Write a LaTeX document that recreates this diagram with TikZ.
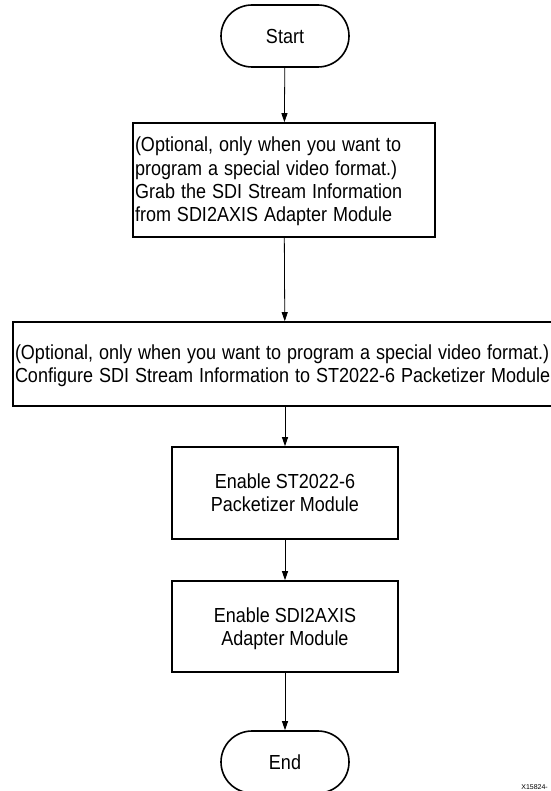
\documentclass[tikz,border=0pt]{standalone}
\usepackage{fontspec}
\setmainfont{Liberation Sans}
\usetikzlibrary{arrows.meta}
% slightly tall lettering, lowered a little so it sits mid-box
\newcommand\tallleft[1]{\raisebox{-2pt}[\height][\depth]{\scalebox{1}[1.13]{\begin{tabular}{@{}l@{}}#1\end{tabular}}}}
\newcommand\tallmid[1]{\raisebox{-2.5pt}[\height][\depth]{\scalebox{1}[1.13]{\begin{tabular}{@{}c@{}}#1\end{tabular}}}}
\begin{document}
\begin{tikzpicture}[x=1pt,y=-1pt,
  every node/.style={font=\fontsize{18}{20.6}\selectfont},
  terminal/.style={draw, line width=1.6pt, rounded corners=31pt,
    minimum width=128pt, minimum height=62pt, inner sep=0pt},
  stepbox/.style={draw, line width=1.6pt, inner sep=0pt},
  flow/.style={line width=0.8pt, -{Triangle[length=9pt,width=6pt]}}]
\useasboundingbox (0,0) rectangle (550,791);

\node[terminal] (start) at (285,36) {\tallmid{Start}};

\node[stepbox, text width=298pt, inner xsep=2pt, align=left,
      minimum height=114pt] (grab) at (284,180)
  {\tallleft{(Optional, only when you want to\\
   program a special video format.)\\
   Grab the SDI Stream Information\\
   from SDI2AXIS Adapter Module}};

\node[stepbox, text width=540pt, inner xsep=2pt, align=left,
      minimum height=84pt] (config) at (285,364)
  {\tallleft{(Optional, only when you want to program a special video format.)\\
   Configure SDI Stream Information to ST2022-6 Packetizer Module}};

\node[stepbox, minimum width=226pt, minimum height=92pt]
  (pkt) at (285,493) {\tallmid{Enable ST2022-6\\Packetizer Module}};

\node[stepbox, minimum width=226pt, minimum height=91pt]
  (adp) at (285,626.5) {\tallmid{Enable SDI2AXIS\\Adapter Module}};

\node[terminal] (end) at (285,762) {\tallmid{End}};

\node[font=\fontsize{7}{8}\selectfont, anchor=north east, inner sep=0pt]
  (tag) at (548,784) {X15824-};

\draw[flow] (start) -- (grab);
\draw[flow] (grab) -- (config);
\draw[flow] (config) -- (pkt);
\draw[flow] (pkt) -- (adp);
\draw[flow] (adp) -- (end);
\end{tikzpicture}
\end{document}
